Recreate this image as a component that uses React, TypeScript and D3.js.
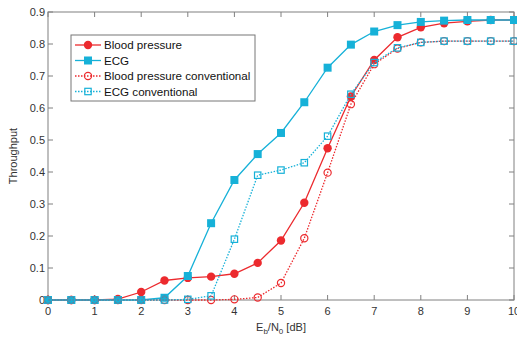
import React from 'react';
import * as d3 from 'd3';

const snr = [0, 0.5, 1, 1.5, 2, 2.5, 3, 3.5, 4, 4.5, 5, 5.5, 6, 6.5, 7, 7.5, 8, 8.5, 9, 9.5, 10];
const bloodPressure = [0, 0, 0, 0.003, 0.025, 0.061, 0.069, 0.073, 0.082, 0.116, 0.186, 0.304, 0.474, 0.636, 0.75, 0.821, 0.852, 0.865, 0.871, 0.875, 0.875];
const ecg = [0, 0, 0, 0, 0, 0.007, 0.075, 0.24, 0.375, 0.456, 0.522, 0.618, 0.726, 0.798, 0.839, 0.859, 0.869, 0.873, 0.875, 0.875, 0.875];
const bpConventional = [0, 0, 0, 0, 0, 0, 0, 0, 0.002, 0.008, 0.053, 0.193, 0.398, 0.612, 0.737, 0.786, 0.805, 0.809, 0.809, 0.809, 0.809];
const ecgConventional = [0, 0, 0, 0, 0, 0, 0.002, 0.013, 0.19, 0.39, 0.406, 0.429, 0.512, 0.643, 0.742, 0.788, 0.805, 0.809, 0.809, 0.809, 0.809];
const xTicks = d3.range(0, 11);
const yTicks = [0, 0.1, 0.2, 0.3, 0.4, 0.5, 0.6, 0.7, 0.8, 0.9];

const RED = '#ec2a2e';
const CYAN = '#16b1d8';

const series = [
  { name: 'Blood pressure', values: bloodPressure, color: RED, dashed: false, marker: 'circle', filled: true },
  { name: 'ECG', values: ecg, color: CYAN, dashed: false, marker: 'square', filled: true },
  { name: 'Blood pressure conventional', values: bpConventional, color: RED, dashed: true, marker: 'circle', filled: false },
  { name: 'ECG conventional', values: ecgConventional, color: CYAN, dashed: true, marker: 'square', filled: false },
];

function Marker({ x, y, s }: { x: number; y: number; s: any }) {
  if (s.marker === 'circle') {
    return s.filled
      ? <circle cx={x} cy={y} r={4.2} fill={s.color} />
      : <circle cx={x} cy={y} r={3.6} fill="none" stroke={s.color} strokeWidth={1.2} />;
  }
  return s.filled
    ? <rect x={x - 4} y={y - 4} width={8} height={8} fill={s.color} />
    : <rect x={x - 3.2} y={y - 3.2} width={6.4} height={6.4} fill="none" stroke={s.color} strokeWidth={1.2} />;
}

export default function App() {
  const width = 517, height = 337;
  const left = 48, right = 514, top = 12, bottom = 300;
  const x = d3.scaleLinear().domain([0, 10]).range([left, right]);
  const y = d3.scaleLinear().domain([0, 0.9]).range([bottom, top]);
  const line = d3.line<number>().x((_, i) => x(snr[i])).y(d => y(d));
  const axisColor = '#808080';
  const font = 'Arial, "Liberation Sans", sans-serif';

  return (
    <svg width={width} height={height} style={{ position: 'absolute', left: 0, top: 0, background: '#fff' }} fontFamily={font}>
      <rect x={left} y={top} width={right - left} height={bottom - top} fill="none" stroke={axisColor} strokeWidth={1} />
      {xTicks.map(t => (
        <g key={'x' + t}>
          <line x1={x(t)} x2={x(t)} y1={bottom} y2={bottom - 5} stroke={axisColor} />
          <line x1={x(t)} x2={x(t)} y1={top} y2={top + 5} stroke={axisColor} />
          <text x={x(t)} y={bottom + 15} fontSize={11} textAnchor="middle" fill="#333">{t}</text>
        </g>
      ))}
      {yTicks.map(t => (
        <g key={'y' + t}>
          <line x1={left} x2={left + 5} y1={y(t)} y2={y(t)} stroke={axisColor} />
          <line x1={right} x2={right - 5} y1={y(t)} y2={y(t)} stroke={axisColor} />
          <text x={left - 3} y={y(t) + 4} fontSize={11} textAnchor="end" fill="#333">{t === 0 ? '0' : t.toFixed(1)}</text>
        </g>
      ))}
      <text x={(left + right) / 2} y={331} fontSize={11} textAnchor="middle" fill="#333">
        E<tspan fontSize={8} dy={3}>b</tspan><tspan dy={-3}>/N</tspan><tspan fontSize={8} dy={3}>0</tspan><tspan dy={-3}> [dB]</tspan>
      </text>
      <text transform={`translate(17,${(top + bottom) / 2}) rotate(-90)`} fontSize={11} textAnchor="middle" fill="#333">Throughput</text>
      {series.map(s => (
        <g key={s.name}>
          <path d={line(s.values) ?? ''} fill="none" stroke={s.color} strokeWidth={1.3} strokeDasharray={s.dashed ? '1.5,1.5' : undefined} />
          {s.values.map((v, i) => <Marker key={i} x={x(snr[i])} y={y(v)} s={s} />)}
        </g>
      ))}
      <g>
        <rect x={71} y={35} width={184} height={66} fill="#fff" stroke="#777" strokeWidth={1} />
        {series.map((s, i) => {
          const ly = 45 + i * 15.5;
          return (
            <g key={s.name}>
              <line x1={75} x2={101} y1={ly} y2={ly} stroke={s.color} strokeWidth={1.3} strokeDasharray={s.dashed ? '1.5,1.5' : undefined} />
              <Marker x={88} y={ly} s={s} />
              <text x={104} y={ly + 4} fontSize={11.6} fill="#111">{s.name}</text>
            </g>
          );
        })}
      </g>
    </svg>
  );
}
